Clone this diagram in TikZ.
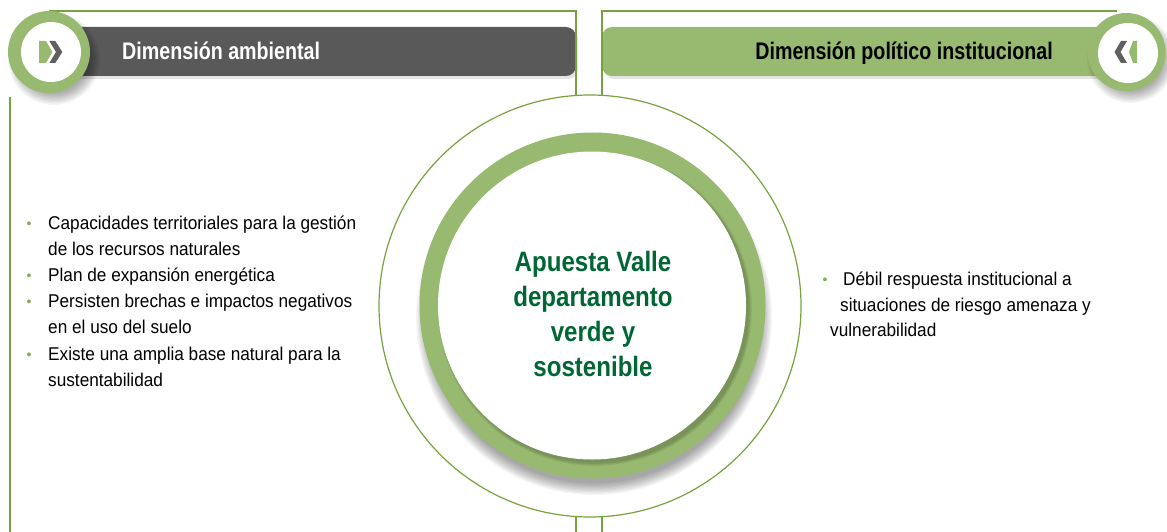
\documentclass[tikz,border=0pt]{standalone}
\usepackage{fontspec}
\setmainfont{Liberation Sans}
\newfontfamily\headfont{Liberation Sans}[FakeStretch=0.82]
\newfontfamily\centerfont{Liberation Sans}[FakeStretch=0.86]
\newfontfamily\bodyfont{Liberation Sans}[FakeStretch=0.93]
\definecolor{framegreen}{RGB}{118,163,62}
\definecolor{ringgreen}{RGB}{152,185,112}
\definecolor{bargray}{RGB}{89,89,89}
\definecolor{textgreen}{RGB}{0,102,51}
\definecolor{bulletgreen}{RGB}{130,172,75}
\definecolor{icongray}{RGB}{96,96,96}
\begin{document}
\begin{tikzpicture}[x=1pt,y=-1pt,
  frame/.style={draw=framegreen,line width=2.4pt},
  bodytext/.style={font=\bodyfont\fontsize{18.5}{22}\selectfont,text=black,inner sep=0pt,anchor=base west},
  bul/.style={font=\fontsize{14}{16}\selectfont,text=bulletgreen,inner sep=0pt,anchor=base},
  headtext/.style={font=\headfont\bfseries\fontsize{24}{28}\selectfont,inner sep=0pt},
  softshade/.style={black,opacity=0.04}
]
\useasboundingbox (0,0) rectangle (1167,532);
\fill[white] (0,0) rectangle (1167,532);

% header bars
\fill[black,opacity=0.10,rounded corners=10pt] (40,29) rectangle (578,79);
\fill[bargray,rounded corners=10pt] (40,27) rectangle (576,76);
\fill[black,opacity=0.10,rounded corners=10pt] (604,29) rectangle (1122,79);
\fill[ringgreen,rounded corners=10pt] (602,27) rectangle (1120,76);

% panel frames
\draw[frame] (10,540) -- (10,97);
\draw[frame] (49,11) -- (576,11) -- (576,540);
\draw[frame] (1117,11) -- (602,11) -- (602,540);

% central circles
\filldraw[fill=white,draw=framegreen,line width=1.2pt] (590,306) circle[radius=211pt];
\foreach \k in {0,...,9} \fill[softshade] (594,317) circle[radius={(178-\k*1.3)*1pt}];
\fill[ringgreen] (592.5,305.5) circle[radius=173pt];
\foreach \k in {0,...,5} \fill[black,opacity=0.035] (595,309) circle[radius={(157-\k*0.6)*1pt}];
\fill[white] (592,305.5) circle[radius=154pt];
\node[font=\centerfont\bfseries\fontsize{28}{35}\selectfont,text=textgreen,align=center,inner sep=0pt] (core) at (593,314) {Apuesta Valle\\departamento\\verde y\\sostenible};

% left icon
\foreach \k in {0,...,8} \fill[softshade] (54,59) circle[radius={(46-\k*1.4)*1pt}];
\fill[ringgreen] (49,52) circle[radius=41pt];
\fill[white] (51,52) circle[radius=30pt];
\fill[ringgreen] (39,41) -- (46,41) -- (52.3,52) -- (46,63) -- (39,63) -- cycle;
\fill[icongray] (49.3,41) -- (55.3,41) -- (62.3,52) -- (55.3,63) -- (49.3,63) -- (56,52) -- cycle;

% right icon
\foreach \k in {0,...,8} \fill[softshade] (1131,59) circle[radius={(44-\k*1.4)*1pt}];
\fill[ringgreen] (1126.5,52) circle[radius=39pt];
\fill[white] (1128,53) circle[radius=30pt];
\fill[icongray] (1127,41) -- (1121,41) -- (1114.5,52) -- (1121,63) -- (1127,63) -- (1120.5,52) -- cycle;
\fill[ringgreen] (1137,41) -- (1133,41) -- (1129,52) -- (1133,63) -- (1137,63) -- cycle;

% headings
\node[headtext,text=white,anchor=base west] (hleft) at (122,60) {Dimensión ambiental};
\node[headtext,text=black,anchor=base east] (hright) at (1053,60) {Dimensión político institucional};

% left list
\node[bul] (b1) at (29,228) {•};
\node[bodytext] (l1) at (48,229) {Capacidades territoriales para la gestión};
\node[bodytext] (l2) at (48,255.2) {de los recursos naturales};
\node[bul] (b2) at (29,280.4) {•};
\node[bodytext] (l3) at (48,281.4) {Plan de expansión energética};
\node[bul] (b3) at (29,306.6) {•};
\node[bodytext] (l4) at (48,307.6) {Persisten brechas e impactos negativos};
\node[bodytext] (l5) at (48,333.8) {en el uso del suelo};
\node[bul] (b4) at (29,359) {•};
\node[bodytext] (l6) at (48,360) {Existe una amplia base natural para la};
\node[bodytext] (l7) at (48,386.2) {sustentabilidad};

% right list
\node[bul] (b5) at (825,284) {•};
\node[bodytext] (r1) at (843,285) {Débil respuesta institucional a};
\node[bodytext] (r2) at (840,311) {situaciones de riesgo amenaza y};
\node[bodytext] (r3) at (830,336) {vulnerabilidad};
\end{tikzpicture}
\end{document}
